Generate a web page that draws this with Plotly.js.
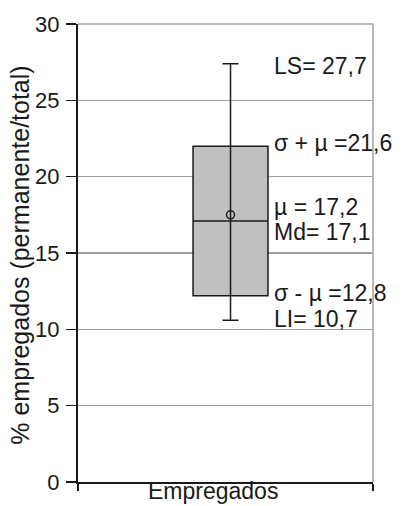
<!DOCTYPE html>
<html>
<head>
<meta charset="utf-8">
<script src="https://cdn.plot.ly/plotly-3.0.1.min.js"></script>
<style>html,body{margin:0;padding:0;background:#fff;}#chart{width:404px;height:506px;}</style>
</head>
<body>
<div id="chart"></div>
<script>
// Data
const category = ["Empregados"];
const yTitle = "% empregados (permanente/total)";
const boxX = [0.017];
const q1 = [12.2];
const q3 = [22.0];
const median = [17.1];
const mean = [17.5];
const lowerLimit = [10.6];
const upperLimit = [27.4];
const labelTexts = ["LS= 27,7", "σ + µ =21,6", "µ = 17,2", "Md= 17,1", "σ - µ =12,8", "LI= 10,7"];
const labelY = [27.25, 22.2, 18.0, 16.4, 12.4, 10.7];
const yTicks = [0, 5, 10, 15, 20, 25, 30];

const FONT = "Liberation Sans, Arial, sans-serif";
const INK = "#1a1a1a";

const traces = [
  {
    type: "box",
    x: boxX,
    q1: q1, q3: q3, median: median,
    lowerfence: q1, upperfence: q3,
    width: 0.254,
    boxpoints: false,
    whiskerwidth: 0,
    fillcolor: "#c0c0c0",
    line: {color: INK, width: 1.5},
    hoverinfo: "skip",
    showlegend: false
  },
  {
    type: "scatter",
    mode: "markers",
    x: boxX,
    y: median,
    marker: {color: "rgba(0,0,0,0)", size: 1},
    error_y: {
      type: "data", symmetric: false,
      array: [upperLimit[0] - median[0]],
      arrayminus: [median[0] - lowerLimit[0]],
      width: 8, thickness: 1.5, color: INK
    },
    hoverinfo: "skip",
    showlegend: false
  },
  {
    type: "scatter",
    mode: "markers",
    x: boxX,
    y: mean,
    marker: {symbol: "circle-open", size: 8, color: INK, line: {width: 1.5, color: INK}},
    hoverinfo: "skip",
    showlegend: false
  }
];

const annotations = labelTexts.map((t, i) => ({
  text: t, xref: "paper", yref: "y",
  x: 0.657, y: labelY[i],
  xanchor: "left", yanchor: "middle",
  showarrow: false,
  font: {family: FONT, size: 23, color: INK}
}));
annotations.push({
  text: yTitle, xref: "paper", yref: "paper",
  x: -0.197, y: 0.496, xanchor: "center", yanchor: "middle",
  textangle: -90, showarrow: false,
  font: {family: FONT, size: 25, color: INK}
});
annotations.push({
  text: category[0], xref: "paper", yref: "paper",
  x: 0.458, y: -0.050, xanchor: "center", yanchor: "bottom",
  showarrow: false, borderpad: 0,
  font: {family: FONT, size: 23, color: INK}
});

const layout = {
  width: 404, height: 506,
  margin: {l: 78, r: 31, t: 24, b: 24, pad: 0},
  paper_bgcolor: "#fff", plot_bgcolor: "#fff",
  font: {family: FONT, color: INK},
  showlegend: false,
  xaxis: {
    range: [-0.5, 0.5],
    tickvals: [-0.5, 0.5], ticktext: ["", ""],
    ticks: "outside", ticklen: 7, tickwidth: 2, tickcolor: INK,
    showgrid: false, zeroline: false,
    showline: true, linecolor: INK, linewidth: 2,
    fixedrange: true
  },
  yaxis: {
    range: [0, 30],
    tickvals: yTicks,
    ticks: "outside", ticklen: 10, tickwidth: 1.5, tickcolor: INK,
    tickfont: {family: FONT, size: 22, color: INK},
    ticklabelstandoff: 2,
    showgrid: true, gridcolor: "#a0a0a0", gridwidth: 1.5,
    zeroline: false,
    showline: true, linecolor: INK, linewidth: 2,
    fixedrange: true
  },
  shapes: [
    {type: "line", xref: "paper", yref: "paper", x0: 1, x1: 1, y0: 0, y1: 1, line: {color: "#a0a0a0", width: 1.5}, layer: "below"},
    {type: "line", xref: "paper", yref: "paper", x0: 0, x1: 1, y0: 1, y1: 1, line: {color: "#a0a0a0", width: 1.5}, layer: "below"}
  ],
  annotations: annotations
};

Plotly.newPlot("chart", traces, layout, {displayModeBar: false, staticPlot: true});
</script>
</body>
</html>
